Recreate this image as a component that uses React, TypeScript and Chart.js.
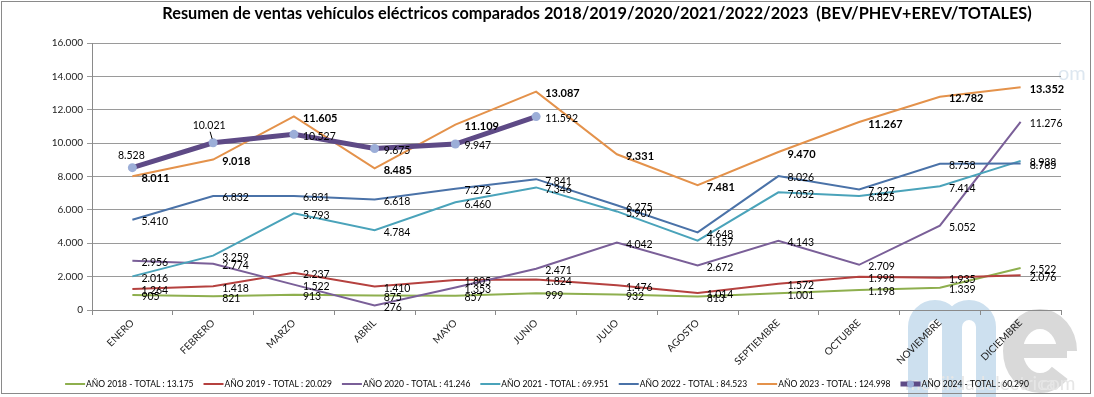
import React, { useEffect, useRef } from 'react';
import { Chart, registerables } from 'chart.js';

Chart.register(...registerables);

const TITLE = 'Resumen de ventas vehículos eléctricos comparados 2018/2019/2020/2021/2022/2023  (BEV/PHEV+EREV/TOTALES)';
const MONTHS = ['ENERO', 'FEBRERO', 'MARZO', 'ABRIL', 'MAYO', 'JUNIO', 'JULIO', 'AGOSTO', 'SEPTIEMBRE', 'OCTUBRE', 'NOVIEMBRE', 'DICIEMBRE'];

const Y2018 = [905, 821, 913, 875, 857, 999, 932, 813, 1001, 1198, 1339, 2522];
const Y2019 = [1264, 1418, 2237, 1410, 1805, 1824, 1476, 1014, 1572, 1998, 1935, 2076];
const Y2020 = [2956, 2774, 1522, 276, 1353, 2471, 4042, 2672, 4143, 2709, 5052, 11276];
const Y2021 = [2016, 3259, 5793, 4784, 6460, 7346, 5907, 4157, 7052, 6825, 7414, 8938];
const Y2022 = [5410, 6832, 6831, 6618, 7272, 7841, 6275, 4648, 8026, 7227, 8758, 8785];
const Y2023 = [8011, 9018, 11605, 8485, 11109, 13087, 9331, 7481, 9470, 11267, 12782, 13352];
const Y2024 = [8528, 10021, 10527, 9675, 9947, 11592, null, null, null, null, null, null];

const SERIES_NAMES = [
  'AÑO 2018 - TOTAL : 13.175',
  'AÑO 2019 - TOTAL : 20.029',
  'AÑO 2020 - TOTAL : 41.246',
  'AÑO 2021 - TOTAL : 69.951',
  'AÑO 2022 - TOTAL : 84.523',
  'AÑO 2023 - TOTAL : 124.998',
  'AÑO 2024 - TOTAL : 60.290',
];

const Y_MIN = 0;
const Y_MAX = 16000;
const Y_STEP = 2000;

const COLORS = ['#8EAF4E', '#B5413F', '#7A5F98', '#4AA3BA', '#4A72A8', '#E4924B', '#5E4A86'];
const MARKER_2024 = '#9CAED8';
const FONT = 'Lato, "Open Sans", sans-serif';

const fmt = (n: number) => String(n).replace(/\B(?=(\d{3})+(?!\d))/g, '.');

const labelsPlugin = {
  id: 'valueLabels',
  afterDatasetsDraw(chart: any) {
    const ctx = chart.ctx;
    ctx.save();
    chart.data.datasets.forEach((ds: any, i: number) => {
      const meta = chart.getDatasetMeta(i);
      const bold = i === 5;
      ctx.font = (bold ? 'bold 11px ' : '10.5px ') + FONT;
      ctx.fillStyle = '#000';
      meta.data.forEach((pt: any, j: number) => {
        const v = ds.data[j];
        if (v == null) return;
        const x = pt.x;
        const y = pt.y;
        if (i === 6 && j < 2) {
          ctx.textAlign = 'center';
          ctx.textBaseline = 'middle';
          if (j === 0) {
            ctx.fillText(fmt(v), x - 1, y - 12);
          } else {
            ctx.fillText(fmt(v), x - 4, y - 17);
            ctx.strokeStyle = '#000';
            ctx.lineWidth = 1;
            ctx.beginPath();
            ctx.moveTo(x - 3, y - 11);
            ctx.lineTo(x - 1, y - 4);
            ctx.stroke();
          }
        } else {
          ctx.textAlign = 'left';
          ctx.textBaseline = 'middle';
          ctx.fillText(fmt(v), x + 9, y + 2);
        }
      });
    });
    ctx.restore();
  },
};

const decorPlugin = {
  id: 'decor',
  beforeDraw(chart: any) {
    const ctx = chart.ctx;
    ctx.save();
    ctx.fillStyle = '#fff';
    ctx.fillRect(0, 0, chart.width, chart.height);
    // watermark "m"
    ctx.strokeStyle = '#cde0ef';
    ctx.lineWidth = 20;
    ctx.lineCap = 'butt';
    ctx.beginPath();
    ctx.moveTo(918, 400);
    ctx.lineTo(918, 327);
    ctx.arc(935, 327, 17, Math.PI, 0, false);
    ctx.lineTo(952, 400);
    ctx.moveTo(952, 327);
    ctx.arc(969, 327, 17, Math.PI, 0, false);
    ctx.lineTo(986, 400);
    ctx.stroke();
    // watermark "e"
    ctx.strokeStyle = '#d9d9d9';
    ctx.beginPath();
    ctx.ellipse(1040, 351, 27, 32, 0, 0, 0.75, true);
    ctx.stroke();
    ctx.beginPath();
    ctx.moveTo(1013, 351);
    ctx.lineTo(1067, 351);
    ctx.lineWidth = 14;
    ctx.stroke();
    ctx.fillStyle = '#e6e6e6';
    ctx.font = '19px ' + FONT;
    ctx.textAlign = 'left';
    ctx.textBaseline = 'alphabetic';
    ctx.fillText('movilidadelectrica', 905, 390);
    ctx.fillText('com', 1040, 390);
    ctx.fillStyle = '#dde7f0';
    ctx.font = '20px ' + FONT;
    ctx.fillText('om', 1058, 80);
    ctx.restore();
  },
  afterDraw(chart: any) {
    const ctx = chart.ctx;
    ctx.save();
    // border
    ctx.strokeStyle = '#8a8a8a';
    ctx.lineWidth = 1;
    ctx.strokeRect(1.5, 1.5, 1089, 392);
    // title
    ctx.fillStyle = '#000';
    ctx.font = 'bold 16.3px ' + FONT;
    ctx.textAlign = 'center';
    ctx.textBaseline = 'middle';
    ctx.fillText(TITLE, 597, 14);
    // legend
    ctx.font = '8.5px ' + FONT;
    ctx.textAlign = 'left';
    ctx.textBaseline = 'middle';
    const sample = 20;
    const gapAfter = 10;
    const widths = SERIES_NAMES.map((s) => ctx.measureText(s).width);
    const total = widths.reduce((a, w) => a + sample + 1 + w + gapAfter, 0) - gapAfter;
    let x = 547 - total / 2;
    const ly = 384;
    chart.data.datasets.forEach((ds: any, i: number) => {
      ctx.strokeStyle = COLORS[i];
      ctx.lineWidth = i === 6 ? 5 : 2;
      ctx.beginPath();
      ctx.moveTo(x, ly);
      ctx.lineTo(x + sample, ly);
      ctx.stroke();
      if (i === 6) {
        ctx.fillStyle = MARKER_2024;
        ctx.beginPath();
        ctx.arc(x + sample / 2, ly, 3.5, 0, Math.PI * 2);
        ctx.fill();
      }
      ctx.fillStyle = '#000';
      ctx.fillText(SERIES_NAMES[i], x + sample + 1, ly);
      x += sample + 1 + widths[i] + gapAfter;
    });
    ctx.restore();
  },
};

export default function App() {
  const ref = useRef<HTMLCanvasElement>(null);
  useEffect(() => {
    if (!ref.current) return;
    const all = [Y2018, Y2019, Y2020, Y2021, Y2022, Y2023, Y2024];
    const chart = new Chart(ref.current, {
      type: 'line',
      data: {
        labels: MONTHS,
        datasets: all.map((d, i) => ({
          label: SERIES_NAMES[i],
          data: d,
          borderColor: COLORS[i],
          backgroundColor: COLORS[i],
          borderWidth: i === 6 ? 5 : 2,
          pointRadius: i === 6 ? 4.5 : 0,
          pointBackgroundColor: MARKER_2024,
          pointBorderWidth: 0,
          pointBorderColor: MARKER_2024,
          tension: 0,
          fill: false,
          spanGaps: false,
          order: 7 - i,
        })),
      },
      options: {
        responsive: false,
        animation: false,
        devicePixelRatio: 1,
        layout: { padding: { left: 0, right: 33, top: 43, bottom: 0 } },
        plugins: {
          legend: { display: false },
          title: { display: false },
          tooltip: { enabled: false },
        },
        scales: {
          x: {
            offset: true,
            grid: { offset: true, drawOnChartArea: false, drawTicks: true, tickLength: 5, color: '#8a8a8a' },
            border: { color: '#8a8a8a' },
            ticks: {
              maxRotation: 45,
              minRotation: 45,
              color: '#222',
              font: { family: FONT, size: 10 },
              padding: 2,
            },
            afterFit: (s: any) => { s.height = 87; },
          },
          y: {
            min: Y_MIN,
            max: Y_MAX,
            ticks: {
              stepSize: Y_STEP,
              color: '#222',
              font: { family: FONT, size: 10 },
              padding: 4,
              callback: (v: any) => fmt(Number(v)),
            },
            grid: { color: '#9a9a9a', tickLength: 5, lineWidth: 1 },
            border: { color: '#8a8a8a' },
            afterFit: (s: any) => { s.width = 92; },
          },
        },
      },
      plugins: [decorPlugin, labelsPlugin],
    });
    return () => chart.destroy();
  }, []);
  return (
    <div style={{ position: 'absolute', left: 0, top: 0, width: 1094, height: 397, background: '#fff' }}>
      <canvas ref={ref} width={1094} height={397} />
    </div>
  );
}
